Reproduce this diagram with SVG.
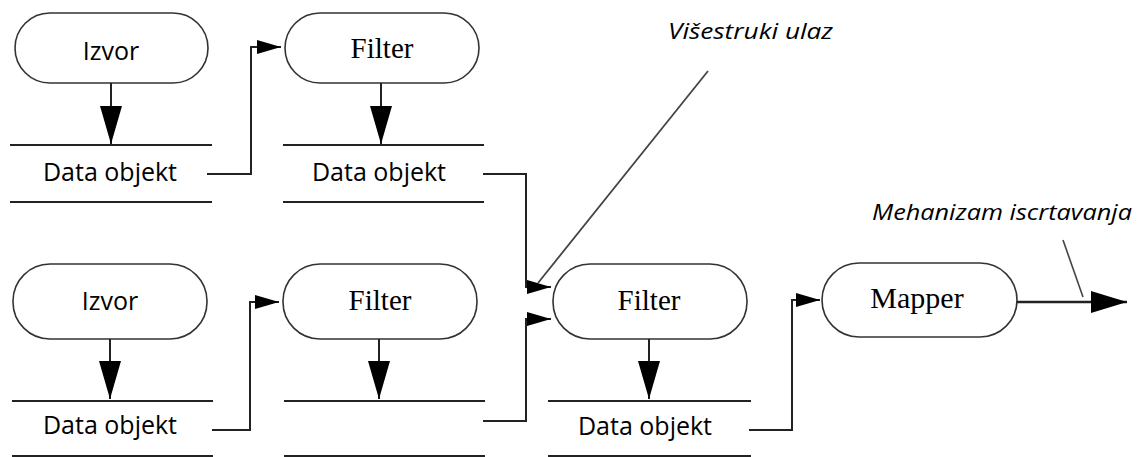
<svg xmlns="http://www.w3.org/2000/svg" width="1140" height="457" viewBox="0 0 1140 457">
<style>
.pill{fill:#fff;stroke:#333;stroke-width:1.6}
.bar{stroke:#222;stroke-width:2.2}
.c{fill:none;stroke:#222;stroke-width:2}
.sans{font-family:"Open Sans","Liberation Sans",sans-serif;font-size:25px;fill:#000;text-anchor:middle}
.serif{font-family:"Liberation Serif","Times New Roman",serif;font-size:29px;fill:#000;text-anchor:middle}
.it{font-family:"Open Sans","Liberation Sans",sans-serif;font-style:italic;font-size:22px;fill:#000}
</style>
<defs>
<marker id="big" viewBox="0 -11 38 22" refX="38" refY="0" markerWidth="38" markerHeight="22" markerUnits="userSpaceOnUse" orient="auto"><path d="M0,-11 L38,0 L0,11 z" fill="#000"/></marker>
<marker id="sm" viewBox="0 -7 24 14" refX="24" refY="0" markerWidth="24" markerHeight="14" markerUnits="userSpaceOnUse" orient="auto"><path d="M0,-7 L24,0 L0,7 z" fill="#000"/></marker>
<marker id="out" viewBox="0 -11 36 22" refX="36" refY="0" markerWidth="36" markerHeight="22" markerUnits="userSpaceOnUse" orient="auto"><path d="M0,-11 L36,0 L0,11 z" fill="#000"/></marker>
</defs>
<rect width="1140" height="457" fill="#fff"/>

<g id="izvor1"><rect class="pill" x="15" y="13" width="193" height="70" rx="35"/><text class="sans" x="111" y="60">Izvor</text></g>
<g id="data1"><line class="bar" x1="10" y1="145" x2="212" y2="145"/><line class="bar" x1="10" y1="202" x2="212" y2="202"/><text class="sans" x="110" y="181">Data objekt</text></g>
<g id="filter1"><rect class="pill" x="285" y="13" width="194" height="70" rx="35"/><text class="serif" x="382" y="58">Filter</text></g>
<g id="data2"><line class="bar" x1="283" y1="145" x2="484" y2="145"/><line class="bar" x1="283" y1="202" x2="484" y2="202"/><text class="sans" x="379" y="181">Data objekt</text></g>

<g id="izvor2"><rect class="pill" x="13" y="264" width="194" height="75" rx="37"/><text class="sans" x="110" y="310">Izvor</text></g>
<g id="data3"><line class="bar" x1="12" y1="401" x2="213" y2="401"/><line class="bar" x1="12" y1="456" x2="213" y2="456"/><text class="sans" x="110" y="434">Data objekt</text></g>
<g id="filter2"><rect class="pill" x="283" y="264" width="194" height="75" rx="37"/><text class="serif" x="380" y="310">Filter</text></g>
<g id="data4"><line class="bar" x1="284" y1="401" x2="485" y2="401"/><line class="bar" x1="284" y1="456" x2="485" y2="456"/></g>

<g id="filter3"><rect class="pill" x="553" y="264" width="194" height="75" rx="37"/><text class="serif" x="649" y="310">Filter</text></g>
<g id="data5"><line class="bar" x1="548" y1="401" x2="751" y2="401"/><line class="bar" x1="548" y1="456" x2="751" y2="456"/><text class="sans" x="645" y="435">Data objekt</text></g>
<g id="mapper"><rect class="pill" x="822" y="263" width="195" height="74" rx="37"/><text class="serif" x="917" y="308" style="font-size:30px">Mapper</text></g>

<g id="labels">
<text class="it" x="668" y="39" textLength="165" lengthAdjust="spacingAndGlyphs">Višestruki ulaz</text>
<text class="it" x="872" y="220" textLength="260" lengthAdjust="spacingAndGlyphs">Mehanizam iscrtavanja</text>
</g>

<g id="connectors">
<line class="c" x1="111" y1="83" x2="111" y2="144" marker-end="url(#big)"/>
<line class="c" x1="381" y1="83" x2="381" y2="144" marker-end="url(#big)"/>
<line class="c" x1="110" y1="339" x2="110" y2="399" marker-end="url(#big)"/>
<line class="c" x1="379" y1="339" x2="379" y2="399" marker-end="url(#big)"/>
<line class="c" x1="649" y1="339" x2="649" y2="399" marker-end="url(#big)"/>
<path class="c" d="M207,174 H251 V47 H281" marker-end="url(#sm)"/>
<path class="c" d="M483,174 H526 V287 H551" marker-end="url(#sm)"/>
<path class="c" d="M212,430 H250 V302 H279" marker-end="url(#sm)"/>
<path class="c" d="M483,421 H526 V319 H551" marker-end="url(#sm)"/>
<path class="c" d="M749,430 H792 V300 H820" marker-end="url(#sm)"/>
<line class="c" x1="1017" y1="302" x2="1127" y2="302" style="stroke-width:2.6" marker-end="url(#out)"/>
<line class="c" x1="708" y1="71" x2="538" y2="283" style="stroke:#444;stroke-width:1.8"/>
<line class="c" x1="1063" y1="240" x2="1083" y2="297" style="stroke:#444;stroke-width:1.6"/>
</g>
</svg>
